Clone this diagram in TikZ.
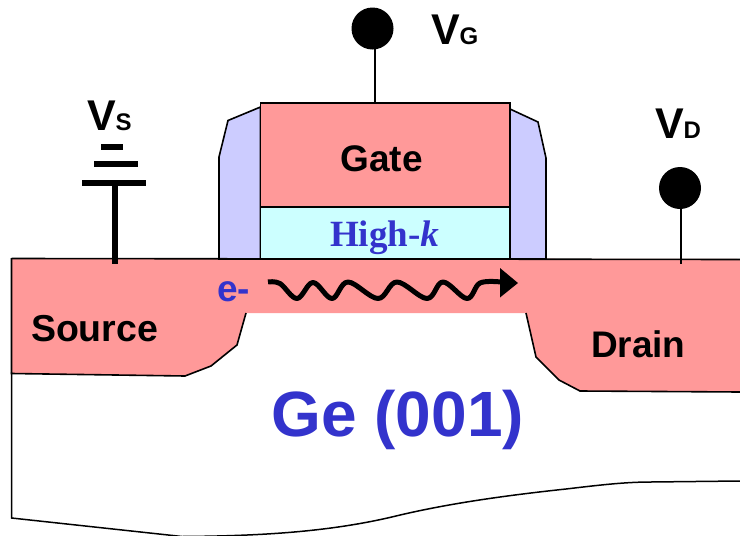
\documentclass[tikz,border=0pt]{standalone}
\usepackage{fontspec}
\setmainfont{Liberation Sans}
\newfontfamily\serifhk{Liberation Serif}
\definecolor{dopepink}{HTML}{FF9999}
\definecolor{spacerblue}{HTML}{CCCCFF}
\definecolor{oxidecyan}{HTML}{CCFFFF}
\definecolor{labelblue}{HTML}{3333CC}
\newcommand{\fsz}[1]{\fontsize{#1}{#1}\selectfont\bfseries}
\tikzset{
  outline/.style={draw=black,line width=1.6pt,line join=miter},
  lbl/.style={anchor=base west,inner sep=0pt,outer sep=0pt,text=black},
  layerbox/.style={outline,anchor=north west,inner sep=0pt,outer sep=0pt},
  terminal/.style={circle,fill=black,inner sep=0pt,outer sep=0pt,minimum size=42pt},
  lead/.style={line width=1.8pt,black},
  batt/.style={line width=5.5pt,black},
}
\begin{document}
\begin{tikzpicture}[x=1pt,y=-1pt]
\useasboundingbox (0,0) rectangle (740,536);
\clip (0,0) rectangle (740,536);
% substrate outline
\draw[line width=1.5pt] (11.5,372) -- (11.5,518) -- (182,536.5)
  .. controls (260,536) and (330,532) .. (396,516)
  .. controls (450,503) and (510,495) .. (566,489)
  .. controls (600,485) and (625,482) .. (651,482) -- (740,481);
% doped regions
\fill[dopepink] (11.5,258) -- (11.5,373.5) -- (185,376) -- (211,366) -- (237,345) -- (246,313)
  -- (526,313) -- (536,357) -- (559,380) -- (580,391) -- (740,392) -- (740,259) -- cycle;
\draw[outline] (246,313) -- (237,345) -- (211,366) -- (185,376) -- (11.5,373.5) -- (11.5,258);
\draw[outline] (526,313) -- (536,357) -- (559,380) -- (580,391) -- (740,392);
% spacers
\draw[outline,fill=spacerblue] (260.5,107) -- (228,120.5) -- (219,157) -- (219,259) -- (260.5,259) -- cycle;
\draw[outline,fill=spacerblue] (510,109) -- (538,122) -- (546,158) -- (546,259) -- (510,259) -- cycle;
% surface
\draw[outline] (11.5,258.5) -- (740,259.5);
% gate stack
\node[layerbox,fill=dopepink,minimum width=249.5pt,minimum height=104pt] (gate) at (260.5,103) {};
\node[layerbox,fill=oxidecyan,minimum width=249.5pt,minimum height=52pt] (oxide) at (260.5,207) {};
% terminals
\node[terminal] (vg) at (372.5,28.5) {};
\node[terminal] (vd) at (680,188) {};
\coordinate (gtop) at (375,103);
\coordinate (dcon) at (681,264);
\coordinate (scon) at (115,264);
\coordinate (stop) at (115,183);
\draw[lead] (375,45) -- (gtop);
\draw[lead] (681,205) -- (dcon);
% source battery symbol
\draw[batt] (101,147) -- (123,147);
\draw[batt] (94,164) -- (138,164);
\draw[batt] (82,183) -- (146,183);
\draw[batt] (stop) -- (scon);
% electron path
\draw[line width=5pt,line join=round,black]
  plot[smooth,tension=0.6] coordinates {(268,282) (280,283.5) (297,298.5) (313,282.5) (332,298.5) (348,282) (378,298.5) (397,282) (427,298.5) (443,282) (467,298.5) (480,283) (501,282)};
\fill[black] (500,268) -- (518,283) -- (500,297.5) -- cycle;
% labels
\node[lbl] (lgate) at (340.5,171) {\fsz{37}Gate};
\node[lbl,text=labelblue] (lhigh) at (330,246.5) {\serifhk\fsz{37}High-\itshape k};
\node[lbl,text=labelblue] (le) at (217,301) {\fsz{37}e-};
\node[lbl] (lsource) at (31,341.5) {\fsz{37.5}Source};
\node[lbl] (ldrain) at (591,357) {\fsz{37}Drain};
\node[lbl,text=labelblue] (lge) at (271.5,436) {\fsz{64}Ge (001)};
\node[lbl] (lvg) at (431,44) {\fsz{43}V\fsz{24}G};
\node[lbl] (lvs) at (87,130) {\fsz{43}V\fsz{24}S};
\node[lbl] (lvd) at (655,138.5) {\fsz{43}V\fsz{24}D};
\end{tikzpicture}
\end{document}
